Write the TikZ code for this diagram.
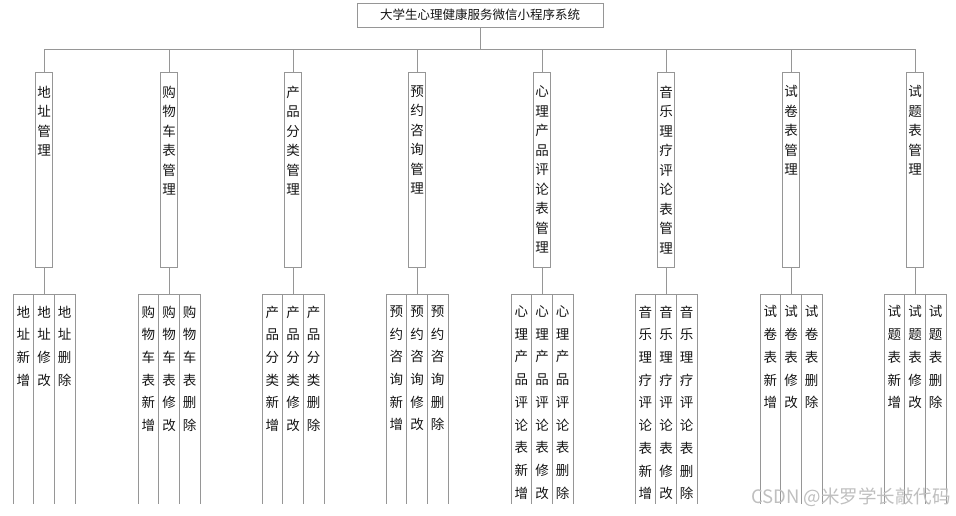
\documentclass[tikz,border=0pt]{standalone}
\usepackage{fontspec}
\newfontfamily\cjk{Noto Sans CJK SC}
\definecolor{linegray}{RGB}{150,150,150}
\definecolor{txt}{RGB}{20,20,20}
\tikzset{
  ln/.style={draw=linegray, line width=0.8pt},
  titlebox/.style={ln, rectangle, minimum width=246pt, minimum height=24pt, inner sep=0pt,
    text=txt, font=\cjk\fontsize{12.5}{14}\selectfont},
  midbox/.style={ln, rectangle, minimum width=17pt, minimum height=195pt, inner sep=0pt, anchor=north},
  midtext/.style={inner sep=0pt, anchor=north, align=center, text=txt,
    font=\cjk\fontsize{13.5}{19.5}\selectfont},
  leafbox/.style={ln, rectangle, minimum width=20.7pt, minimum height=230pt, inner sep=0pt, anchor=north},
  leaftext/.style={inner sep=0pt, anchor=north, align=center, text=txt,
    font=\cjk\fontsize{13.5}{22.7}\selectfont},
  wm/.style={inner sep=0pt, text=gray!50, font=\cjk\fontsize{18.5}{20}\selectfont}
}
\begin{document}
\begin{tikzpicture}[x=1pt,y=1pt]
\useasboundingbox (0,0) rectangle (956,-515);
\node[titlebox] (t) at (480,-15) {大学生心理健康服务微信小程序系统};
\coordinate (busL) at (44,-49);
\coordinate (busR) at (915,-49);
\draw[ln] (busL) -- (busR);
\draw[ln] (t.south) -- (t.south |- busL);
\begin{scope}
\clip (0,0) rectangle (956,-503);
\foreach \i/\x/\p in {1/44/{地\\址},2/169/{购\\物\\车\\表},3/293/{产\\品\\分\\类},4/417/{预\\约\\咨\\询},5/542/{心\\理\\产\\品\\评\\论\\表},6/666/{音\\乐\\理\\疗\\评\\论\\表},7/791/{试\\卷\\表},8/915/{试\\题\\表}}{
  \node[midbox] (m\i) at (\x,-72) {};
  \node[midtext] (mt\i) at (\x,-85.5) {\p\\管\\理};
  \draw[ln] (m\i.north) -- (m\i.north |- busL);
  \node[leafbox] (a\i) at (\x-20.7,-294) {};
  \node[leafbox] (b\i) at (\x,-294) {};
  \node[leafbox] (c\i) at (\x+20.7,-294) {};
  \node[leaftext] (at\i) at (\x-20.7,-305.5) {\p\\新\\增};
  \node[leaftext] (bt\i) at (\x,-305.5) {\p\\修\\改};
  \node[leaftext] (ct\i) at (\x+20.7,-305.5) {\p\\删\\除};
  \draw[ln] (m\i.south) -- (b\i.north);
}
\end{scope}
\node[wm] (w) at (851,-497) {CSDN @米罗学长敲代码};
\end{tikzpicture}
\end{document}
